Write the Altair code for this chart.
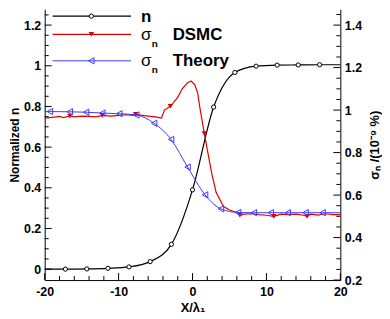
import altair as alt
import pandas as pd

# ---------------- data ----------------
# n (left axis): line points and circle markers
n_x = [-20, -17.2, -14.3, -11.45, -8.6, -5.73, -2.86, 0, 2.86, 5.73, 8.6, 11.45, 14.3, 17.2, 20]
n_val = [0.0, 0.0, 0.001, 0.004, 0.011, 0.037, 0.122, 0.39, 0.797, 0.967, 0.998, 1.003, 1.004, 1.005, 1.005]
n_mark_x = [-17.2, -14.3, -11.45, -8.6, -5.73, -2.86, 0, 2.86, 5.73, 8.6, 11.45, 14.3, 17.2]
n_mark_val = [0.0, 0.001, 0.004, 0.011, 0.037, 0.122, 0.39, 0.797, 0.967, 0.998, 1.003, 1.004, 1.005]

# sigma_n DSMC (right axis)
d_x = [-20, -19, -18, -17.5, -16.6, -16, -15, -14, -13, -12.2, -11, -10, -9, -8, -7.7, -7,
       -6, -5, -4.2, -3.8, -3.0, -2.0, -1.4, -0.7, -0.2, 0.3, 0.7, 1.0, 1.6, 2.1, 2.6, 3.2,
       4.2, 5, 6, 6.4, 7, 8, 9, 10, 11, 12, 13, 14, 15, 15.5, 16, 17, 18, 19, 20]
d_val = [0.962, 0.966, 0.970, 0.965, 0.972, 0.968, 0.972, 0.970, 0.968, 0.975, 0.972, 0.975,
         0.978, 0.975, 0.980, 0.976, 0.972, 0.968, 0.962, 1.000, 1.018, 1.060, 1.100, 1.128,
         1.137, 1.120, 1.080, 1.010, 0.889, 0.795, 0.702, 0.612, 0.546, 0.530, 0.518, 0.505,
         0.510, 0.512, 0.508, 0.505, 0.500, 0.510, 0.508, 0.510, 0.505, 0.500, 0.510, 0.506,
         0.512, 0.508, 0.508]
d_mark_x = [-16.6, -12.2, -7.7, -3.0, 1.6, 6.4, 11.0, 15.5]
d_mark_val = [0.972, 0.975, 0.980, 1.018, 0.889, 0.505, 0.500, 0.500]

# sigma_n Theory (right axis)
t_x = [-20, -19.3, -16.6, -14.4, -12.2, -9.9, -7.6, -5.2, -2.9, -0.67, 1.7, 3.85, 6.17, 8.3,
       10.6, 12.9, 15.3, 17.6, 20]
t_val = [0.993, 0.993, 0.992, 0.990, 0.986, 0.983, 0.977, 0.938, 0.862, 0.732, 0.601, 0.535,
         0.518, 0.517, 0.517, 0.517, 0.517, 0.517, 0.517]
t_mark_x = t_x[1:-1]
t_mark_val = t_val[1:-1]

# axis ticks
x_major = [-20, -10, 0, 10, 20]
x_minor = [v for v in range(-18, 20, 2) if v % 10 != 0]
left_major = [0, 0.2, 0.4, 0.6, 0.8, 1, 1.2]
left_minor = [round(0.05 * i, 2) for i in range(1, 26) if i % 4 != 0]
right_major = [0.2, 0.4, 0.6, 0.8, 1, 1.2, 1.4]
right_minor = [round(0.2 + 0.05 * i, 2) for i in range(1, 26) if i % 4 != 0]

# ---------------- layout ----------------
W, H = 298, 273
FONT = "Liberation Sans"
RED = "#e00000"
BLUE = "#3b3bff"

x_scale = alt.Scale(domain=[-20, 20], nice=False, zero=False)
left_scale = alt.Scale(domain=[-0.0537, 1.278], nice=False, zero=False)
right_scale = alt.Scale(domain=[0.2, 1.4747], nice=False, zero=False)

axis_common = dict(labelFont=FONT, labelFontWeight="bold", labelFontSize=12.5, labelColor="black",
                   titleFont=FONT, titleFontWeight="bold", titleColor="black",
                   domainColor="black", domainWidth=1, ticks=False, tickSize=0, grid=False,
                   labelFlush=False)

x_axis = alt.Axis(title="X/λ₁", values=x_major, labelExpr="datum.value + ''", labelPadding=6,
                  titlePadding=3, titleFontSize=13, **axis_common)
left_axis = alt.Axis(title="Normalized n", values=left_major, format="~g", labelPadding=4,
                     titleFontSize=12, titleAngle=270, titleBaseline="middle",
                     titleAlign="center", titleX=-30, titleY=H / 2, **axis_common)
right_axis = alt.Axis(title="σₙ /(10⁻⁹ %)", orient="right", values=right_major, format="~g",
                      labelPadding=4, titleFontSize=13, titleAngle=270, titleBaseline="middle",
                      titleAlign="center", titleX=34, titleY=H / 2, **axis_common)

n_df = pd.DataFrame({"x": n_x, "v": n_val})
n_m_df = pd.DataFrame({"x": n_mark_x, "v": n_mark_val})
d_df = pd.DataFrame({"x": d_x, "v": d_val})
d_m_df = pd.DataFrame({"x": d_mark_x, "v": d_mark_val})
t_df = pd.DataFrame({"x": t_x, "v": t_val})
t_m_df = pd.DataFrame({"x": t_mark_x, "v": t_mark_val})

X = alt.X("x:Q", scale=x_scale, axis=x_axis)
YL = alt.Y("v:Q", scale=left_scale, axis=left_axis)
YR = alt.Y("v:Q", scale=right_scale, axis=right_axis)

# left group
n_line = alt.Chart(n_df).mark_line(color="black", strokeWidth=1.2, interpolate="monotone").encode(
    x=X, y=YL)
n_pts = alt.Chart(n_m_df).mark_point(shape="circle", size=18, color="black", fill="white",
                                     filled=True, stroke="black", strokeWidth=1, opacity=1).encode(
    x=X, y=YL)
lmaj = alt.Chart(pd.DataFrame({"v": left_major})).mark_rule(color="black", strokeWidth=1).encode(
    y=YL, x=alt.value(0), x2=alt.value(7))
lmin = alt.Chart(pd.DataFrame({"v": left_minor})).mark_rule(color="black", strokeWidth=1).encode(
    y=YL, x=alt.value(0), x2=alt.value(4))
xmaj = alt.Chart(pd.DataFrame({"x": x_major})).mark_rule(color="black", strokeWidth=1).encode(
    x=X, y=alt.value(H), y2=alt.value(H - 7))
xmin = alt.Chart(pd.DataFrame({"x": x_minor})).mark_rule(color="black", strokeWidth=1).encode(
    x=X, y=alt.value(H), y2=alt.value(H - 4))
left_group = alt.layer(n_line, n_pts, lmaj, lmin, xmaj, xmin)

# right group
d_line = alt.Chart(d_df).mark_line(color=RED, strokeWidth=1.2).encode(x=X, y=YR)
d_pts = alt.Chart(d_m_df).mark_point(shape="triangle-down", size=30, color=RED, filled=True,
                                     opacity=1).encode(x=X, y=YR)
t_line = alt.Chart(t_df).mark_line(color=BLUE, strokeWidth=1, interpolate="monotone").encode(
    x=X, y=YR)
t_pts = alt.Chart(t_m_df).mark_point(shape="triangle-left", size=40, color=BLUE, filled=False,
                                     strokeWidth=1, opacity=1).encode(x=X, y=YR)
rmaj = alt.Chart(pd.DataFrame({"v": right_major})).mark_rule(color="black", strokeWidth=1).encode(
    y=YR, x=alt.value(W), x2=alt.value(W - 7))
rmin = alt.Chart(pd.DataFrame({"v": right_minor})).mark_rule(color="black", strokeWidth=1).encode(
    y=YR, x=alt.value(W), x2=alt.value(W - 4))
right_group = alt.layer(d_line, d_pts, t_line, t_pts, rmaj, rmin)

# legend
dummy = pd.DataFrame({"k": [0]})


def txt(text, x, y, size, weight="bold", font=FONT):
    return alt.Chart(dummy).mark_text(text=text, align="left", baseline="alphabetic",
                                      fontSize=size, fontWeight=weight, font=font,
                                      color="black").encode(x=alt.value(x), y=alt.value(y))


def leg_line(color, y, width):
    return alt.Chart(dummy).mark_rule(color=color, strokeWidth=width).encode(
        x=alt.value(8), x2=alt.value(87), y=alt.value(y))


def leg_pt(y, **kw):
    return alt.Chart(dummy).mark_point(opacity=1, **kw).encode(x=alt.value(47), y=alt.value(y))


legend = [
    leg_line("black", 7, 1.2),
    leg_pt(7, shape="circle", size=18, color="black", fill="white", filled=True, stroke="black",
           strokeWidth=1),
    txt("n", 97, 13, 17),
    leg_line(RED, 25.3, 1.2),
    leg_pt(25.3, shape="triangle-down", size=30, color=RED, filled=True),
    txt("σ", 97, 31.3, 17, weight="normal"),
    txt("n", 108, 38, 10),
    txt("DSMC", 129, 31.3, 17),
    leg_line(BLUE, 52, 1),
    leg_pt(52, shape="triangle-left", size=40, color=BLUE, filled=False, strokeWidth=1),
    txt("σ", 97, 57.7, 17, weight="normal"),
    txt("n", 108, 64.4, 10),
    txt("Theory", 129, 57.7, 17),
]
legend_group = alt.layer(*legend)

chart = alt.layer(left_group, right_group, legend_group).resolve_scale(y="independent").properties(
    width=W, height=H,
    padding={"left": 37, "top": 0, "right": 42, "bottom": 36},
    autosize=alt.AutoSizeParams(type="none"),
).configure_view(stroke=None)

chart.save("out.html", embed_options={"renderer": "svg", "actions": False})
